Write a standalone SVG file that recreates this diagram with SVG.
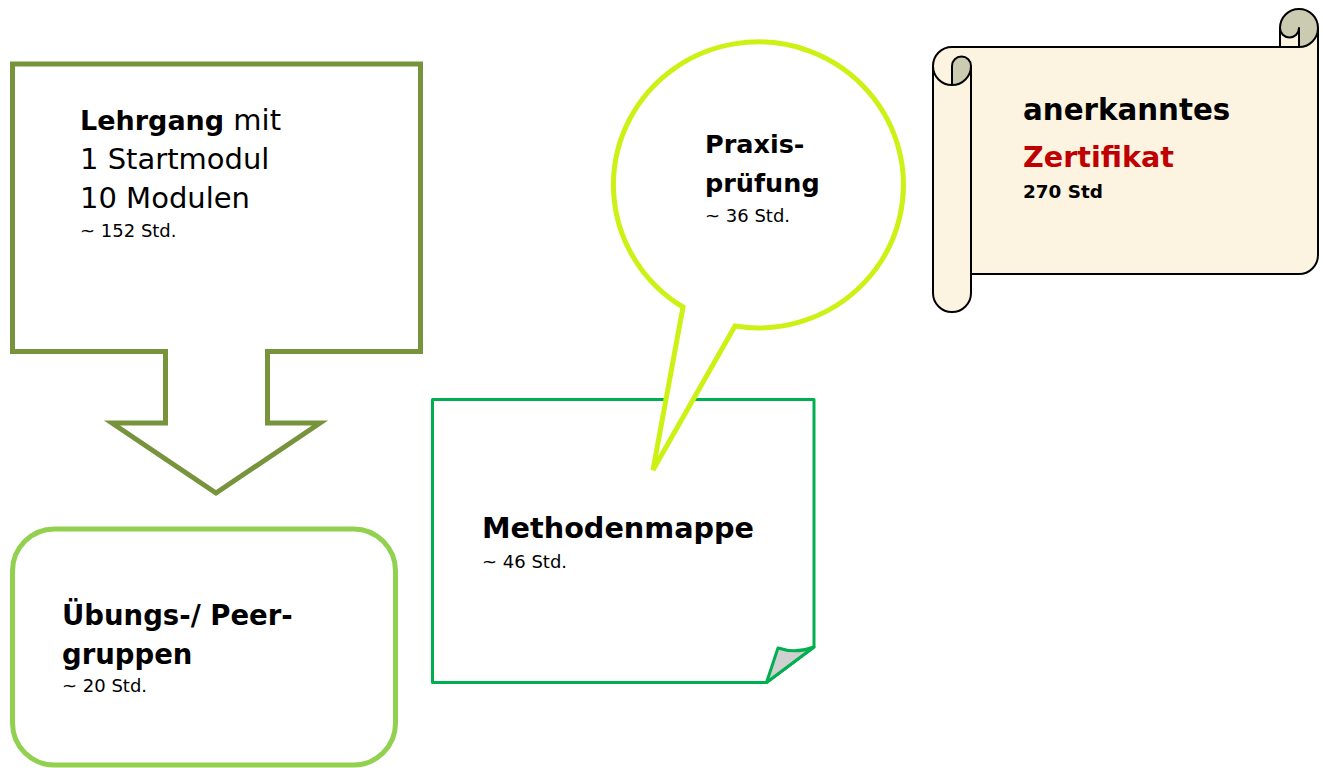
<svg xmlns="http://www.w3.org/2000/svg" width="1323" height="768" viewBox="0 0 1323 768">
  <style>
    text { font-family: "DejaVu Sans", "Liberation Sans", sans-serif; fill: #000; }
    .b { font-weight: bold; }
    .big { font-size: 29px; }
    .sm { font-size: 18px; }
    .red { fill: #C00000; }
  </style>
  <rect width="1323" height="768" fill="#fff"/>

  <g id="lehrgang">
    <path d="M12.5,64 L420.5,64 L420.5,351.5 L267.5,351.5 L267.5,423 L320,423 L216,493 L112,423 L165.5,423 L165.5,351.5 L12.5,351.5 Z" fill="#fff" stroke="#77933C" stroke-width="5"/>
    <text x="80" y="130" class="big"><tspan class="b" font-size="27">Lehrgang</tspan> mit</text>
    <text x="80" y="169" class="big">1 Startmodul</text>
    <text x="80" y="208" class="big">10 Modulen</text>
    <text x="80" y="237" class="sm">~ 152 Std.</text>
  </g>

  <g id="uebungsgruppen">
    <rect x="12.5" y="529" width="383" height="236" rx="42" ry="42" fill="#fff" stroke="#92D050" stroke-width="5"/>
    <text x="62" y="625" class="b" font-size="27.5">Übungs-/ Peer-</text>
    <text x="62" y="664" class="b" font-size="27.5">gruppen</text>
    <text x="62" y="692" class="sm">~ 20 Std.</text>
  </g>

  <g id="methodenmappe">
    <path d="M432.5,399.5 L814,399.5 L814,647 L766.5,682.5 L432.5,682.5 Z" fill="#fff" stroke="#00B050" stroke-width="3" stroke-linejoin="round"/>
    <path d="M766.5,682.5 L778,648 Q796,654 814,647 Z" fill="#D0D0D0" stroke="#00B050" stroke-width="3" stroke-linejoin="round"/>
    <text x="482" y="538" class="b" font-size="28.7">Methodenmappe</text>
    <text x="482" y="568" class="sm">~ 46 Std.</text>
  </g>

  <g id="praxispruefung">
    <path d="M735,326 A145,143 0 1 0 683,307 L653,470 Z" fill="#fff" stroke="#CCF215" stroke-width="5" stroke-linejoin="miter"/>
    <text x="705" y="153" class="b" font-size="25.5">Praxis-</text>
    <text x="705" y="192" class="b" font-size="25.5">prüfung</text>
    <text x="705" y="222" class="sm">~ 36 Std.</text>
  </g>

  <g id="zertifikat">
    <path d="M1318,28 A19,19 0 0 1 1299,47 L1299,28 A9.5,9.5 0 0 1 1280,28 L1280,47 L952,47 A19,19 0 0 0 933,66 L933,293 A19,19 0 0 0 971,293 L971,274 L1299,274 A19,19 0 0 0 1318,255 Z" fill="#FCF3E1"/>
    <path d="M952,85 A19,19 0 0 0 971,66 A9.5,9.5 0 0 0 952,66 Z" fill="#CBCBB1"/>
    <path d="M1299,47 A19,19 0 1 0 1280,28 A9.5,9.5 0 0 0 1299,28 Z" fill="#CBCBB1"/>
    <g fill="none" stroke="#000" stroke-width="2" stroke-linejoin="round">
      <path d="M933,66 A19,19 0 0 1 952,47 L1280,47 L1280,28 A19,19 0 0 1 1318,28 L1318,255 A19,19 0 0 1 1299,274 L971,274 L971,293 A19,19 0 0 1 933,293 Z"/>
      <path d="M1280,47 L1299,47 A19,19 0 0 0 1318,28"/>
      <path d="M1299,47 L1299,28 A9.5,9.5 0 0 1 1280,28"/>
      <path d="M952,85 L952,66 A9.5,9.5 0 0 1 971,66 A19,19 0 0 1 933,66"/>
      <path d="M971,66 L971,274"/>
    </g>
    <text x="1023" y="120" class="b" font-size="29.3">anerkanntes</text>
    <text x="1023" y="167" class="b red" font-size="28.6">Zertifikat</text>
    <text x="1023" y="198" class="b" font-size="18.4">270 Std</text>
  </g>

  <g id="connectors"></g>
</svg>
